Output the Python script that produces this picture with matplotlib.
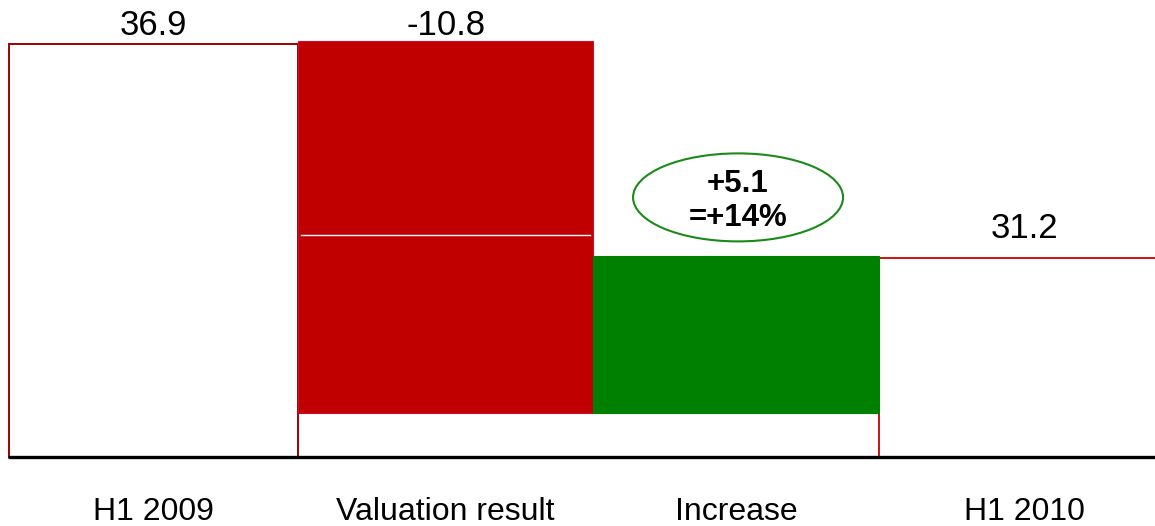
import matplotlib
matplotlib.use("Agg")
import matplotlib.pyplot as plt
from matplotlib.patches import Rectangle, Ellipse

# ---- data (labels as shown; drawn extents, chart is not to scale) ----
categories = ["H1 2009", "Valuation result", "Increase", "H1 2010"]
value_labels = ["36.9", "-10.8", "", "31.2"]
bar_bottom = [0.0, 3.9, 3.9, 0.0]
bar_top = [36.9, 37.2, 18.0, 17.8]
bar_left = [-0.5, 0.497, 1.514, 2.5]
bar_width = [0.997, 1.017, 0.986, 1.0]
label_y = [38.83, 38.87, 0.0, 20.69]
split_line = 19.85          # thin white line inside the valuation bar
callout_text = ["+5.1", "=+14%"]

face_colors = ["white", "#C00000", "#008000", "white"]
edge_colors = ["#A00000", "#C8102E", "#008000", "#D01010"]

px_per_unit = 11.19
W, H = 1155, 526
fig = plt.figure(figsize=(W / 100, H / 100), dpi=100)
ax = fig.add_axes([0, 0, 1, 1])
ax.set_xlim((0 - 9) / 290 - 0.5, (W - 9) / 290 - 0.5)
ax.set_ylim(-(H - 457) / px_per_unit, 457 / px_per_unit)
ax.axis("off")

font = "Liberation Sans"
for i, (b, t) in enumerate(zip(bar_bottom, bar_top)):
    lw = 1.4 if face_colors[i] == "white" else 0.8
    ax.add_patch(Rectangle((bar_left[i], b), bar_width[i], t - b, facecolor=face_colors[i],
                           edgecolor=edge_colors[i], linewidth=lw, zorder=2 if i in (1, 2) else 1))
    cx_bar = bar_left[i] + bar_width[i] / 2
    if value_labels[i]:
        ax.text(cx_bar, label_y[i], value_labels[i], ha="center", va="center_baseline",
                fontsize=25, family=font, color="black")
    ax.text(cx_bar, -4.6, categories[i], ha="center", va="center_baseline", fontsize=23,
            family=font, color="black")

# white split line in valuation bar
ax.plot([bar_left[1] + 0.01, bar_left[1] + bar_width[1] - 0.01], [split_line, split_line],
        color="white", lw=1.0, zorder=3)

# baseline
ax.plot([(8 - 9) / 290 - 0.5, (W - 9) / 290 - 0.5], [0, 0], color="black", lw=2.4, zorder=4,
        solid_capstyle="butt")

# callout ellipse
cx, cy = 2.014, 23.2
ax.add_patch(Ellipse((cx, cy), 210 / 290, 88 / px_per_unit, facecolor="white",
                     edgecolor="#1A8A1A", linewidth=1.5, zorder=5))
ax.text(cx, cy + 1.5, callout_text[0], ha="center", va="center_baseline", fontsize=22.5,
        fontweight="bold", family=font, zorder=6)
ax.text(cx, cy - 1.55, callout_text[1], ha="center", va="center_baseline", fontsize=22.5,
        fontweight="bold", family=font, zorder=6)

fig.savefig("out.png", dpi=100)
